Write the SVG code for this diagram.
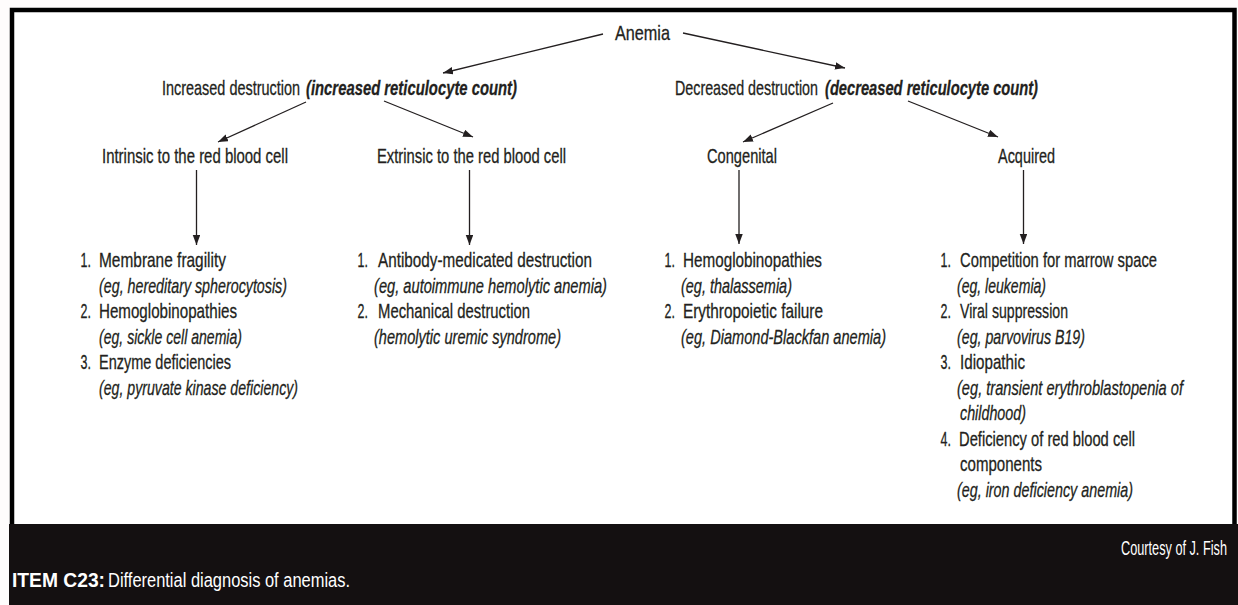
<svg xmlns="http://www.w3.org/2000/svg" width="1238" height="605" viewBox="0 0 1238 605">
  <style>
    .t { font-family: "Liberation Sans Narrow", "Liberation Sans", Arial, sans-serif; font-size: 20.5px; fill: #231f20; stroke: #231f20; stroke-width: 0.3px; }
    .i { font-style: italic; }
    .bi { font-style: italic; font-weight: bold; }
    .cap { font-family: "Liberation Sans Narrow", "Liberation Sans", Arial, sans-serif; font-size: 21px; fill: #ffffff; }
    .b { font-weight: bold; }
    .edge { stroke: #231f20; stroke-width: 1.3; fill: none; marker-end: url(#head); }
  </style>
  <defs>
    <marker id="head" markerUnits="userSpaceOnUse" markerWidth="11" markerHeight="8" refX="10" refY="3.75" orient="auto">
      <path d="M0,0 L10,3.75 L0,7.5 z" fill="#231f20"/>
    </marker>
  </defs>

  <!-- page background and frame -->
  <rect x="0" y="0" width="1238" height="605" fill="#fefcfc"/>
  <rect x="12" y="10" width="1222.5" height="530" fill="#ffffff" stroke="#000000" stroke-width="4.5"/>

  <!-- connectors -->
  <g id="connectors">
    <line class="edge" x1="603" y1="34" x2="443" y2="73"/>
    <line class="edge" x1="683" y1="33" x2="845" y2="68"/>
    <line class="edge" x1="306" y1="102" x2="218" y2="142"/>
    <line class="edge" x1="384" y1="101" x2="473" y2="137"/>
    <line class="edge" x1="833" y1="103" x2="743" y2="142"/>
    <line class="edge" x1="908" y1="101" x2="998" y2="137"/>
    <line class="edge" x1="196.5" y1="170" x2="196.5" y2="245"/>
    <line class="edge" x1="469.5" y1="170" x2="469.5" y2="245"/>
    <line class="edge" x1="739" y1="170" x2="739" y2="244"/>
    <line class="edge" x1="1023.5" y1="170" x2="1023.5" y2="244"/>
  </g>

  <!-- all labels are set in a condensed face: horizontal scale 0.8 -->
  <g id="anemia">
    <text class="t" transform="matrix(0.8 0 0 1 615 40)" textLength="68.75" lengthAdjust="spacingAndGlyphs">Anemia</text>
  </g>

  <g id="increased-destruction">
    <text class="t" transform="matrix(0.8 0 0 1 162 94.5)" textLength="172.5" lengthAdjust="spacingAndGlyphs">Increased destruction</text>
    <text class="t bi" transform="matrix(0.8 0 0 1 306 94.5)" textLength="263.75" lengthAdjust="spacingAndGlyphs">(increased reticulocyte count)</text>
  </g>

  <g id="decreased-destruction">
    <text class="t" transform="matrix(0.8 0 0 1 675 94.5)" textLength="178.75" lengthAdjust="spacingAndGlyphs">Decreased destruction</text>
    <text class="t bi" transform="matrix(0.8 0 0 1 825 94.5)" textLength="266.25" lengthAdjust="spacingAndGlyphs">(decreased reticulocyte count)</text>
  </g>

  <g id="intrinsic">
    <text class="t" transform="matrix(0.8 0 0 1 102 162.5)" textLength="232.5" lengthAdjust="spacingAndGlyphs">Intrinsic to the red blood cell</text>
  </g>
  <g id="extrinsic">
    <text class="t" transform="matrix(0.8 0 0 1 377 162.5)" textLength="236.25" lengthAdjust="spacingAndGlyphs">Extrinsic to the red blood cell</text>
  </g>
  <g id="congenital">
    <text class="t" transform="matrix(0.8 0 0 1 707 162.5)" textLength="87.5" lengthAdjust="spacingAndGlyphs">Congenital</text>
  </g>
  <g id="acquired">
    <text class="t" transform="matrix(0.8 0 0 1 998 162.5)" textLength="71.25" lengthAdjust="spacingAndGlyphs">Acquired</text>
  </g>

  <!-- causes: intrinsic -->
  <g id="intrinsic-list">
    <text class="t" transform="matrix(0.8 0 0 1 80.5 267)" textLength="13" lengthAdjust="spacingAndGlyphs">1.</text>
    <text class="t" transform="matrix(0.8 0 0 1 99 267)" textLength="158.75" lengthAdjust="spacingAndGlyphs">Membrane fragility</text>
    <text class="t i" transform="matrix(0.8 0 0 1 99 292.5)" textLength="235" lengthAdjust="spacingAndGlyphs">(eg, hereditary spherocytosis)</text>
    <text class="t" transform="matrix(0.8 0 0 1 80.5 318)" textLength="13" lengthAdjust="spacingAndGlyphs">2.</text>
    <text class="t" transform="matrix(0.8 0 0 1 99 318)" textLength="172.5" lengthAdjust="spacingAndGlyphs">Hemoglobinopathies</text>
    <text class="t i" transform="matrix(0.8 0 0 1 99 343.5)" textLength="178.75" lengthAdjust="spacingAndGlyphs">(eg, sickle cell anemia)</text>
    <text class="t" transform="matrix(0.8 0 0 1 80.5 369)" textLength="13" lengthAdjust="spacingAndGlyphs">3.</text>
    <text class="t" transform="matrix(0.8 0 0 1 99 369)" textLength="165" lengthAdjust="spacingAndGlyphs">Enzyme deficiencies</text>
    <text class="t i" transform="matrix(0.8 0 0 1 99 394.5)" textLength="248.75" lengthAdjust="spacingAndGlyphs">(eg, pyruvate kinase deficiency)</text>
  </g>

  <!-- causes: extrinsic -->
  <g id="extrinsic-list">
    <text class="t" transform="matrix(0.8 0 0 1 357.5 267)" textLength="13" lengthAdjust="spacingAndGlyphs">1.</text>
    <text class="t" transform="matrix(0.8 0 0 1 378 267)" textLength="267.5" lengthAdjust="spacingAndGlyphs">Antibody-medicated destruction</text>
    <text class="t i" transform="matrix(0.8 0 0 1 374 292.5)" textLength="291.25" lengthAdjust="spacingAndGlyphs">(eg, autoimmune hemolytic anemia)</text>
    <text class="t" transform="matrix(0.8 0 0 1 357.5 318)" textLength="13" lengthAdjust="spacingAndGlyphs">2.</text>
    <text class="t" transform="matrix(0.8 0 0 1 378 318)" textLength="190" lengthAdjust="spacingAndGlyphs">Mechanical destruction</text>
    <text class="t i" transform="matrix(0.8 0 0 1 374 343.5)" textLength="233.75" lengthAdjust="spacingAndGlyphs">(hemolytic uremic syndrome)</text>
  </g>

  <!-- causes: congenital -->
  <g id="congenital-list">
    <text class="t" transform="matrix(0.8 0 0 1 664.5 267)" textLength="13" lengthAdjust="spacingAndGlyphs">1.</text>
    <text class="t" transform="matrix(0.8 0 0 1 683 267)" textLength="173.75" lengthAdjust="spacingAndGlyphs">Hemoglobinopathies</text>
    <text class="t i" transform="matrix(0.8 0 0 1 681 292.5)" textLength="138.75" lengthAdjust="spacingAndGlyphs">(eg, thalassemia)</text>
    <text class="t" transform="matrix(0.8 0 0 1 664.5 318)" textLength="13" lengthAdjust="spacingAndGlyphs">2.</text>
    <text class="t" transform="matrix(0.8 0 0 1 683 318)" textLength="175" lengthAdjust="spacingAndGlyphs">Erythropoietic failure</text>
    <text class="t i" transform="matrix(0.8 0 0 1 681 343.5)" textLength="256.25" lengthAdjust="spacingAndGlyphs">(eg, Diamond-Blackfan anemia)</text>
  </g>

  <!-- causes: acquired -->
  <g id="acquired-list">
    <text class="t" transform="matrix(0.8 0 0 1 940.5 267)" textLength="13" lengthAdjust="spacingAndGlyphs">1.</text>
    <text class="t" transform="matrix(0.8 0 0 1 960 267)" textLength="246.25" lengthAdjust="spacingAndGlyphs">Competition for marrow space</text>
    <text class="t i" transform="matrix(0.8 0 0 1 957 292.5)" textLength="111.25" lengthAdjust="spacingAndGlyphs">(eg, leukemia)</text>
    <text class="t" transform="matrix(0.8 0 0 1 940.5 318)" textLength="13" lengthAdjust="spacingAndGlyphs">2.</text>
    <text class="t" transform="matrix(0.8 0 0 1 960 318)" textLength="135" lengthAdjust="spacingAndGlyphs">Viral suppression</text>
    <text class="t i" transform="matrix(0.8 0 0 1 957 343.5)" textLength="160" lengthAdjust="spacingAndGlyphs">(eg, parvovirus B19)</text>
    <text class="t" transform="matrix(0.8 0 0 1 940.5 369)" textLength="13" lengthAdjust="spacingAndGlyphs">3.</text>
    <text class="t" transform="matrix(0.8 0 0 1 960 369)" textLength="81.25" lengthAdjust="spacingAndGlyphs">Idiopathic</text>
    <text class="t i" transform="matrix(0.8 0 0 1 957 394.5)" textLength="282.5" lengthAdjust="spacingAndGlyphs">(eg, transient erythroblastopenia of</text>
    <text class="t i" transform="matrix(0.8 0 0 1 960 420)" textLength="82.5" lengthAdjust="spacingAndGlyphs">childhood)</text>
    <text class="t" transform="matrix(0.8 0 0 1 940.5 445.5)" textLength="13" lengthAdjust="spacingAndGlyphs">4.</text>
    <text class="t" transform="matrix(0.8 0 0 1 959 445.5)" textLength="220" lengthAdjust="spacingAndGlyphs">Deficiency of red blood cell</text>
    <text class="t" transform="matrix(0.8 0 0 1 960 471)" textLength="102.5" lengthAdjust="spacingAndGlyphs">components</text>
    <text class="t i" transform="matrix(0.8 0 0 1 957 496.5)" textLength="220" lengthAdjust="spacingAndGlyphs">(eg, iron deficiency anemia)</text>
  </g>

  <!-- caption bar -->
  <g id="caption">
    <rect x="9" y="524" width="1229" height="81" fill="#141011"/>
    <text class="cap" transform="matrix(0.65 0 0 1 1121 555)" font-size="20" textLength="163" lengthAdjust="spacingAndGlyphs">Courtesy of J. Fish</text>
    <text class="cap b" transform="matrix(0.8 0 0 1 12 587)" textLength="116.25" lengthAdjust="spacingAndGlyphs">ITEM C23:</text>
    <text class="cap" transform="matrix(0.8 0 0 1 108 587)" textLength="302.5" lengthAdjust="spacingAndGlyphs">Differential diagnosis of anemias.</text>
  </g>
</svg>
